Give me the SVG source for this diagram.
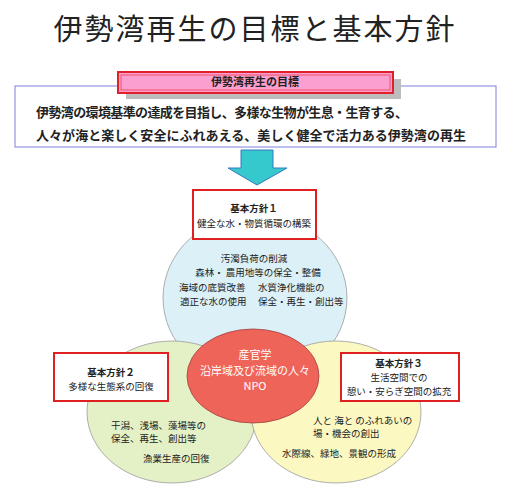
<svg xmlns="http://www.w3.org/2000/svg" width="510" height="488" viewBox="0 0 510 488">
<style>
text{font-family:"Noto Sans CJK JP","Noto Sans CJK SC",sans-serif;fill:#222}
.c{text-anchor:middle}
.b{font-weight:bold}
.s{font-size:9.5px}
.w{fill:#fff;font-size:11px}
.box{fill:#fff;stroke:#e02020;stroke-width:2}
.circ{stroke:#9a9a9a;stroke-width:0.8}
</style>
<rect width="510" height="488" fill="#fff"/>
<g id="title"><text x="255" y="40" class="c" font-size="29" letter-spacing="2">伊勢湾再生の目標と基本方針</text></g>
<g id="goal">
<rect x="15" y="86" width="481" height="61" fill="#fff" stroke="#8080e0" stroke-width="1"/>
<rect x="126" y="79" width="275" height="20" fill="#bdbdbd"/>
<rect x="118" y="72" width="275" height="21" fill="#fb9fd0" stroke="#e0202a" stroke-width="2"/>
<rect x="121" y="75" width="269" height="15" fill="none" stroke="#f04050" stroke-width="0.8"/>
<text x="255" y="86" class="c b" font-size="11">伊勢湾再生の目標</text>
<text x="36" y="117" class="b" font-size="13" textLength="372" lengthAdjust="spacing">伊勢湾の環境基準の達成を目指し、多様な生物が生息・生育する、</text>
<text x="36" y="140" class="b" font-size="13" textLength="430" lengthAdjust="spacing">人々が海と楽しく安全にふれあえる、美しく健全で活力ある伊勢湾の再生</text>
</g>
<g id="arrow"><path d="M241 150 H273 V168 H287 L257 185 L228 168 H241 Z" fill="#35c8cc" stroke="#3a78c0" stroke-width="1"/></g>
<g id="circle-water">
<ellipse cx="255" cy="298" rx="92" ry="84" fill="#dcf0f7" class="circ"/>
<text x="254" y="262" class="c s">汚濁負荷の削減</text>
<text x="258" y="276" class="c s">森林・ 農用地等の保全・整備</text>
<text x="179" y="291" class="s">海域の底質改善</text>
<text x="180" y="305" class="s">適正な水の使用</text>
<text x="258" y="291" class="s">水質浄化機能の</text>
<text x="258" y="305" class="s">保全・再生・創出等</text>
</g>
<g id="circle-eco">
<ellipse cx="172" cy="412" rx="85" ry="71" fill="#e4f0c6" class="circ"/>
<text x="111" y="429" class="s">干潟、浅場、藻場等の</text>
<text x="111" y="442" class="s">保全、再生、創出等</text>
<text x="143" y="462" class="s">漁業生産の回復</text>
</g>
<g id="circle-life">
<ellipse cx="336" cy="412" rx="85" ry="71" fill="#fcf8c2" class="circ"/>
<text x="313" y="424" class="s">人と 海と のふれあいの</text>
<text x="313" y="437" class="s">場・機会の創出</text>
<text x="282" y="457" class="s">水際線、緑地、景観の形成</text>
</g>
<g id="center">
<ellipse cx="253" cy="376" rx="66" ry="47" fill="#ef6459" stroke="#a04040" stroke-width="0.8"/>
<text x="255" y="359" class="c w">産官学</text>
<text x="255" y="375" class="c w">沿岸域及び流域の人々</text>
<text x="255" y="390" class="c w">NPO</text>
</g>
<g id="policy1">
<rect x="193" y="190" width="123" height="49" class="box"/>
<text x="254" y="212" class="c b s">基本方針１</text>
<text x="254" y="227" class="c s">健全な水・物質循環の構築</text>
</g>
<g id="policy2">
<rect x="54" y="353" width="114" height="48" class="box"/>
<text x="111" y="376" class="c b s">基本方針２</text>
<text x="111" y="390" class="c s">多様な生態系の回復</text>
</g>
<g id="policy3">
<rect x="341" y="353" width="118" height="48" class="box"/>
<text x="399" y="367" class="c b s">基本方針３</text>
<text x="399" y="381" class="c s">生活空間での</text>
<text x="399" y="395" class="c s">憩い・安らぎ空間の拡充</text>
</g>
</svg>
